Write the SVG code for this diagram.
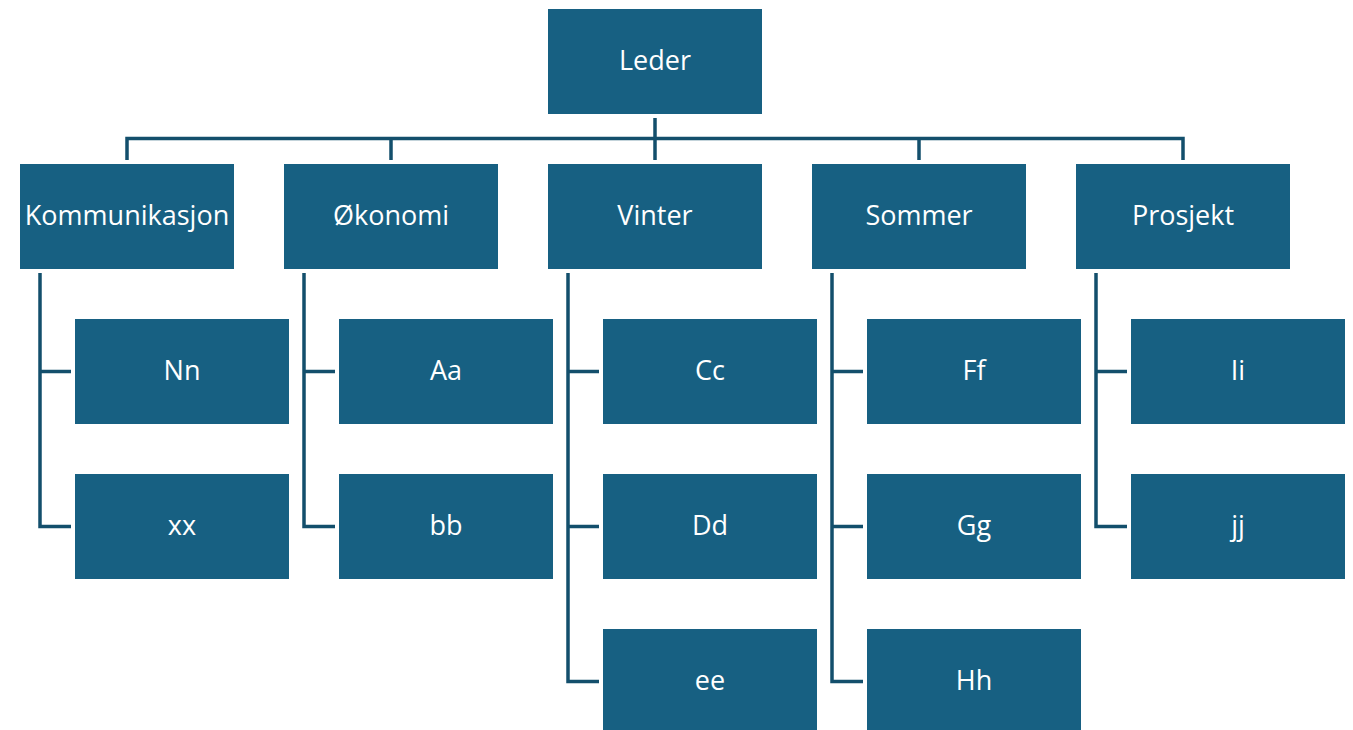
<svg xmlns="http://www.w3.org/2000/svg" width="1353" height="730" viewBox="0 0 1353 730">
<style>
.box{fill:#176082}
.lbl{fill:#ffffff;font-family:"Open Sans",Roboto,"Liberation Sans",sans-serif;font-size:27px;text-anchor:middle}
.con{fill:none;stroke:#134f6c;stroke-width:3.5;stroke-linejoin:miter;stroke-linecap:butt}
</style>
<rect width="1353" height="730" fill="#ffffff"/>
<g id="connectors">
<path class="con" d="M655 118V160M127 160V138.5H1183V160M391 138.5V160M919 138.5V160"/>
<path class="con" d="M40 273V526.5H71M40 371.5H71"/>
<path class="con" d="M304 273V526.5H335M304 371.5H335"/>
<path class="con" d="M568 273V681.5H599M568 371.5H599M568 526.5H599"/>
<path class="con" d="M832 273V681.5H863M832 371.5H863M832 526.5H863"/>
<path class="con" d="M1096 273V526.5H1127M1096 371.5H1127"/>
</g>
<g id="n-leder"><rect class="box" x="548" y="9" width="214" height="105"/><text class="lbl" x="655" y="70">Leder</text></g>
<g id="n-kommunikasjon"><rect class="box" x="20" y="164" width="214" height="105"/><text class="lbl" x="127" y="225">Kommunikasjon</text></g>
<g id="n-okonomi"><rect class="box" x="284" y="164" width="214" height="105"/><text class="lbl" x="391" y="225">Økonomi</text></g>
<g id="n-vinter"><rect class="box" x="548" y="164" width="214" height="105"/><text class="lbl" x="655" y="225">Vinter</text></g>
<g id="n-sommer"><rect class="box" x="812" y="164" width="214" height="105"/><text class="lbl" x="919" y="225">Sommer</text></g>
<g id="n-prosjekt"><rect class="box" x="1076" y="164" width="214" height="105"/><text class="lbl" x="1183" y="225">Prosjekt</text></g>
<g id="n-nn"><rect class="box" x="75" y="319" width="214" height="105"/><text class="lbl" x="182" y="380">Nn</text></g>
<g id="n-xx"><rect class="box" x="75" y="474" width="214" height="105"/><text class="lbl" x="182" y="535">xx</text></g>
<g id="n-aa"><rect class="box" x="339" y="319" width="214" height="105"/><text class="lbl" x="446" y="380">Aa</text></g>
<g id="n-bb"><rect class="box" x="339" y="474" width="214" height="105"/><text class="lbl" x="446" y="535">bb</text></g>
<g id="n-cc"><rect class="box" x="603" y="319" width="214" height="105"/><text class="lbl" x="710" y="380">Cc</text></g>
<g id="n-dd"><rect class="box" x="603" y="474" width="214" height="105"/><text class="lbl" x="710" y="535">Dd</text></g>
<g id="n-ee"><rect class="box" x="603" y="629" width="214" height="105"/><text class="lbl" x="710" y="690">ee</text></g>
<g id="n-ff"><rect class="box" x="867" y="319" width="214" height="105"/><text class="lbl" x="974" y="380">Ff</text></g>
<g id="n-gg"><rect class="box" x="867" y="474" width="214" height="105"/><text class="lbl" x="974" y="535">Gg</text></g>
<g id="n-hh"><rect class="box" x="867" y="629" width="214" height="105"/><text class="lbl" x="974" y="690">Hh</text></g>
<g id="n-ii"><rect class="box" x="1131" y="319" width="214" height="105"/><text class="lbl" x="1238" y="380">Ii</text></g>
<g id="n-jj"><rect class="box" x="1131" y="474" width="214" height="105"/><text class="lbl" x="1238" y="535">jj</text></g>
</svg>
